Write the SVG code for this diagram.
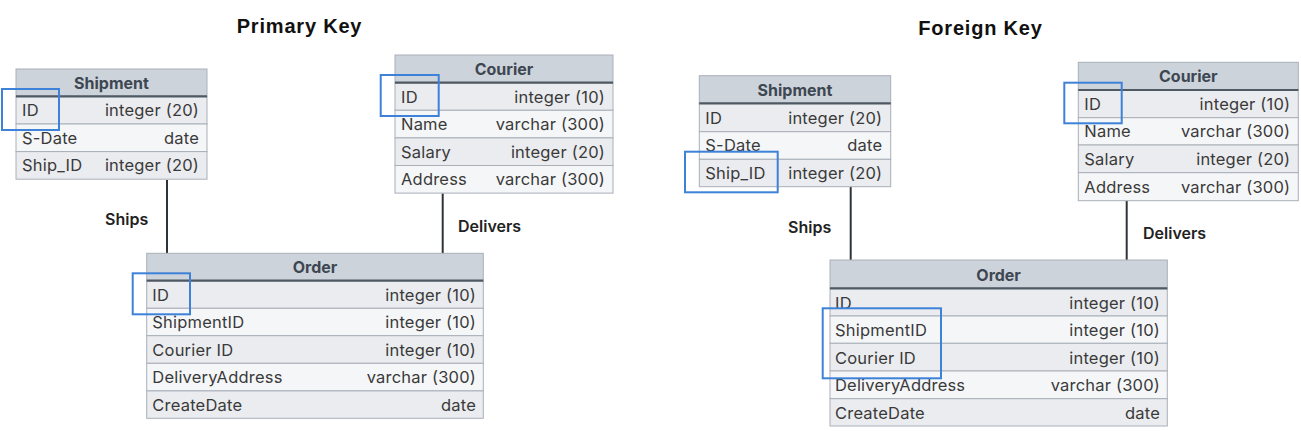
<svg xmlns="http://www.w3.org/2000/svg" width="1301" height="431" viewBox="0 0 1301 431">
<style>
.title{font-family:"Liberation Sans",Arial,sans-serif;font-weight:bold;font-size:20px;letter-spacing:0.8px;fill:#111;text-anchor:middle}
.lbl{font-family:Inter,"Liberation Sans",sans-serif;font-weight:600;font-size:16px;fill:#222}
.hdr{fill:#cdd3da;stroke:#a9b0b8;stroke-width:1}
.hdrline{stroke:#4f5964;stroke-width:2.2}
.ht{font-family:Inter,"Liberation Sans",sans-serif;font-weight:700;font-size:16px;fill:#3d4752;text-anchor:middle}
.ra{fill:#eaecef;stroke:#a9b0b8;stroke-width:1}
.rb{fill:#f5f6f8;stroke:#a9b0b8;stroke-width:1}
.k{font-family:Inter,"Liberation Sans",sans-serif;font-size:16.5px;letter-spacing:0.2px;fill:#3a3a3a}
.v{font-family:Inter,"Liberation Sans",sans-serif;font-size:16.5px;letter-spacing:0.2px;fill:#3a3a3a;text-anchor:end}
.hl{fill:none;stroke:#3d82d8;stroke-width:2}
.conn{stroke:#2e3338;stroke-width:2;fill:none}
</style>

<text class="title" x="299.5" y="33">Primary Key</text>
<text class="title" x="980.5" y="35">Foreign Key</text>

<g id="connectors">
  <line class="conn" x1="167" y1="180" x2="167" y2="253.3"/>
  <line class="conn" x1="442.7" y1="193.3" x2="442.7" y2="253.3"/>
  <line class="conn" x1="850.7" y1="186.7" x2="850.7" y2="260"/>
  <line class="conn" x1="1126.7" y1="200.7" x2="1126.7" y2="260"/>
  <text class="lbl" x="105" y="225">Ships</text>
  <text class="lbl" x="458" y="232">Delivers</text>
  <text class="lbl" x="788" y="233">Ships</text>
  <text class="lbl" x="1143" y="239">Delivers</text>
</g>

<!-- Left Shipment -->
<g id="pk-shipment" transform="translate(16,69)">
  <rect class="hdr" x="0" y="0" width="191" height="27.4"/>
  <text class="ht" x="95.5" y="20">Shipment</text>
  <rect class="ra" x="0" y="27.4" width="191" height="27.6"/>
  <rect class="rb" x="0" y="55" width="191" height="27.6"/>
  <rect class="ra" x="0" y="82.6" width="191" height="27.6"/>
  <line class="hdrline" x1="0" y1="27.4" x2="191" y2="27.4"/>
  <text class="k" x="6" y="47">ID</text><text class="v" x="183" y="47">integer (20)</text>
  <text class="k" x="6" y="75">S-Date</text><text class="v" x="183" y="75">date</text>
  <text class="k" x="6" y="102">Ship_ID</text><text class="v" x="183" y="102">integer (20)</text>
</g>
<rect id="pk-shipment-hl" class="hl" x="2" y="89" width="57" height="41"/>

<!-- Left Courier -->
<g id="pk-courier" transform="translate(395,55)">
  <rect class="hdr" x="0" y="0" width="218" height="27.7"/>
  <text class="ht" x="109" y="20">Courier</text>
  <rect class="ra" x="0" y="27.7" width="218" height="27.6"/>
  <rect class="rb" x="0" y="55.3" width="218" height="27.6"/>
  <rect class="ra" x="0" y="82.9" width="218" height="27.6"/>
  <rect class="rb" x="0" y="110.5" width="218" height="27.6"/>
  <line class="hdrline" x1="0" y1="27.7" x2="218" y2="27.7"/>
  <text class="k" x="6" y="47.5">ID</text><text class="v" x="210" y="47.5">integer (10)</text>
  <text class="k" x="6" y="75">Name</text><text class="v" x="210" y="75">varchar (300)</text>
  <text class="k" x="6" y="102.5">Salary</text><text class="v" x="210" y="102.5">integer (20)</text>
  <text class="k" x="6" y="130">Address</text><text class="v" x="210" y="130">varchar (300)</text>
</g>
<rect id="pk-courier-hl" class="hl" x="380.7" y="75" width="58" height="41"/>

<!-- Left Order -->
<g id="pk-order" transform="translate(146.7,253.3)">
  <rect class="hdr" x="0" y="0" width="336.6" height="27.4"/>
  <text class="ht" x="168.3" y="20">Order</text>
  <rect class="ra" x="0" y="27.4" width="336.6" height="27.6"/>
  <rect class="rb" x="0" y="55" width="336.6" height="27.4"/>
  <rect class="ra" x="0" y="82.4" width="336.6" height="27.6"/>
  <rect class="rb" x="0" y="110" width="336.6" height="27.6"/>
  <rect class="ra" x="0" y="137.6" width="336.6" height="27.4"/>
  <line class="hdrline" x1="0" y1="27.4" x2="336.6" y2="27.4"/>
  <text class="k" x="5.6" y="47.5">ID</text><text class="v" x="329.3" y="47.5">integer (10)</text>
  <text class="k" x="5.6" y="75">ShipmentID</text><text class="v" x="329.3" y="75">integer (10)</text>
  <text class="k" x="5.6" y="102.5">Courier ID</text><text class="v" x="329.3" y="102.5">integer (10)</text>
  <text class="k" x="5.6" y="130">DeliveryAddress</text><text class="v" x="329.3" y="130">varchar (300)</text>
  <text class="k" x="5.6" y="157.5">CreateDate</text><text class="v" x="329.3" y="157.5">date</text>
</g>
<rect id="pk-order-hl" class="hl" x="132.7" y="273.3" width="57.3" height="41"/>

<!-- Right Shipment -->
<g id="fk-shipment" transform="translate(699.3,75.7)">
  <rect class="hdr" x="0" y="0" width="191.4" height="27.6"/>
  <text class="ht" x="95.7" y="20">Shipment</text>
  <rect class="ra" x="0" y="27.6" width="191.4" height="28.4"/>
  <rect class="rb" x="0" y="56" width="191.4" height="27.6"/>
  <rect class="ra" x="0" y="83.6" width="191.4" height="27.4"/>
  <line class="hdrline" x1="0" y1="27.6" x2="191.4" y2="27.6"/>
  <text class="k" x="6" y="48">ID</text><text class="v" x="183" y="48">integer (20)</text>
  <text class="k" x="6" y="75.5">S-Date</text><text class="v" x="183" y="75.5">date</text>
  <text class="k" x="6" y="103">Ship_ID</text><text class="v" x="183" y="103">integer (20)</text>
</g>
<rect id="fk-shipment-hl" class="hl" x="685" y="151.7" width="92.7" height="40.6"/>

<!-- Right Courier -->
<g id="fk-courier" transform="translate(1078.3,62.3)">
  <rect class="hdr" x="0" y="0" width="220" height="27.7"/>
  <text class="ht" x="110" y="20">Courier</text>
  <rect class="ra" x="0" y="27.7" width="220" height="27.7"/>
  <rect class="rb" x="0" y="55.4" width="220" height="27.3"/>
  <rect class="ra" x="0" y="82.7" width="220" height="27.7"/>
  <rect class="rb" x="0" y="110.4" width="220" height="28"/>
  <line class="hdrline" x1="0" y1="27.7" x2="220" y2="27.7"/>
  <text class="k" x="6" y="47.5">ID</text><text class="v" x="212" y="47.5">integer (10)</text>
  <text class="k" x="6" y="75">Name</text><text class="v" x="212" y="75">varchar (300)</text>
  <text class="k" x="6" y="102.5">Salary</text><text class="v" x="212" y="102.5">integer (20)</text>
  <text class="k" x="6" y="130.5">Address</text><text class="v" x="212" y="130.5">varchar (300)</text>
</g>
<rect id="fk-courier-hl" class="hl" x="1064.3" y="82.7" width="57.4" height="40.6"/>

<!-- Right Order -->
<g id="fk-order" transform="translate(830,260)">
  <rect class="hdr" x="0" y="0" width="337.3" height="28.3"/>
  <text class="ht" x="168.6" y="20.5">Order</text>
  <rect class="ra" x="0" y="28.3" width="337.3" height="27.7"/>
  <rect class="rb" x="0" y="56" width="337.3" height="27.3"/>
  <rect class="ra" x="0" y="83.3" width="337.3" height="27.7"/>
  <rect class="rb" x="0" y="111" width="337.3" height="27.7"/>
  <rect class="ra" x="0" y="138.7" width="337.3" height="27.3"/>
  <line class="hdrline" x1="0" y1="28.3" x2="337.3" y2="28.3"/>
  <text class="k" x="5" y="48.5">ID</text><text class="v" x="330" y="48.5">integer (10)</text>
  <text class="k" x="5" y="76">ShipmentID</text><text class="v" x="330" y="76">integer (10)</text>
  <text class="k" x="5" y="103.5">Courier ID</text><text class="v" x="330" y="103.5">integer (10)</text>
  <text class="k" x="5" y="131">DeliveryAddress</text><text class="v" x="330" y="131">varchar (300)</text>
  <text class="k" x="5" y="158.5">CreateDate</text><text class="v" x="330" y="158.5">date</text>
</g>
<rect id="fk-order-hl" class="hl" x="822.7" y="308.3" width="118.3" height="70"/>
</svg>
